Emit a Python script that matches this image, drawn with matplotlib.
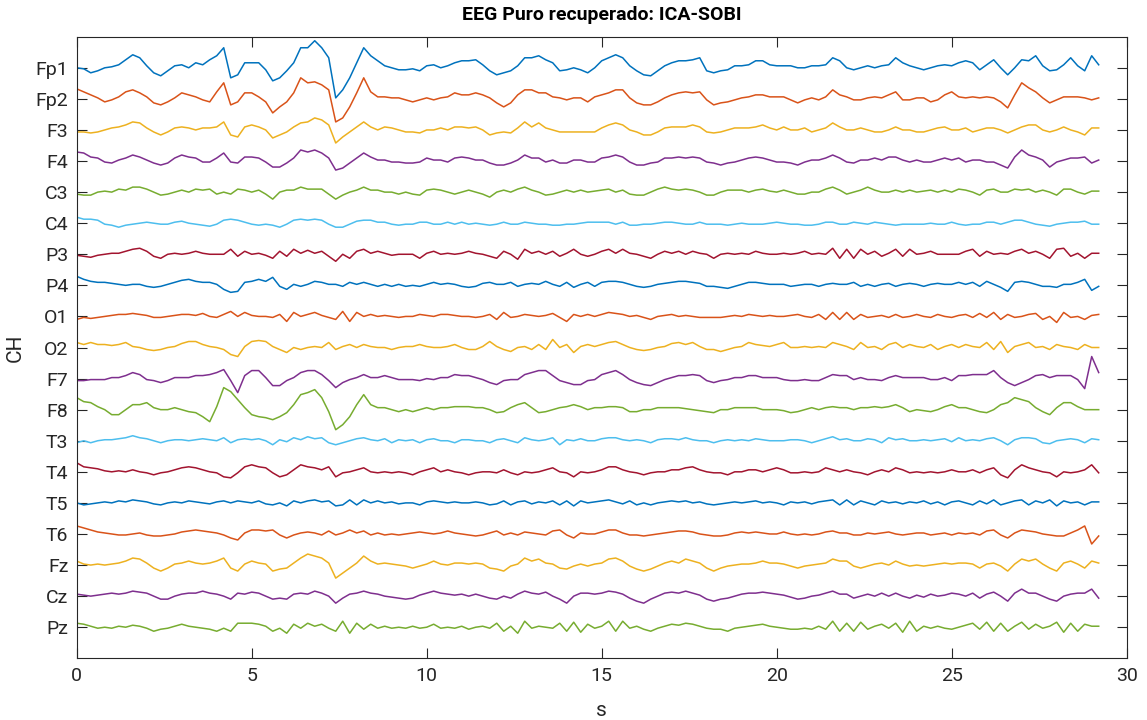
import numpy as np
import matplotlib
matplotlib.use("Agg")
import matplotlib.pyplot as plt

# Canales EEG (de arriba a abajo) y colores por defecto de MATLAB
canales = ['Fp1', 'Fp2', 'F3', 'F4', 'C3', 'C4', 'P3', 'P4', 'O1', 'O2',
           'F7', 'F8', 'T3', 'T4', 'T5', 'T6', 'Fz', 'Cz', 'Pz']
colores = ['#0072BD', '#D95319', '#EDB120', '#7E2F8E', '#77AC30', '#4DBEEE', '#A2142F']

dt = 0.2        # s entre muestras leidas
escala = 31.0   # uV entre canales

# Senales (uV, una muestra cada 0.2 s)
fp1 = [0, -1, -5, -3, 0, 1, 3, 8, 13, 10, 2, -5, -8, -3, 2, 3, 0, 5, 3, 8, 12, 20, -10, -7, 5, 5, 5, -2, -13, -10, -3, 5, 20, 20, 27, 20, 10,
       -30, -22, -10, 5, 20, 12, 7, 2, 0, -2, -2, -1, -3, 2, 3, 0, 2, 5, 7, 7, 8, 3, -3, -7, -5, -3, 2, 10, 10, 12, 8, 5, -3, -2, 0, -2, -5,
       0, 7, 10, 13, 10, 2, -3, -7, -8, -3, 2, 5, 7, 7, 8, 10, -3, -5, -3, -2, 2, 2, 3, 7, 7, 3, 2, 2, 2, 0, 0, 2, 2, 3, 10, 7,
       0, -2, 0, 2, 0, 2, 3, 10, 5, 2, 0, -2, 0, 2, 3, 2, 5, 7, 5, -2, 3, 8, 0, -7, 0, 8, 7, 12, 2, -3, -2, 3, 10, 2, -3, 12, 3]
fp2 = [10, 7, 4, 1, -3, -1, 2, 7, 9, 6, 2, -4, -6, -3, 1, 6, 4, 2, -1, -3, 7, 16, -6, -3, 6, 6, 2, -3, -14, -8, -3, 6, 21, 16, 17, 14, 9,
       -23, -19, -8, 6, 21, 7, 2, 2, 1, 1, -1, -3, -1, 1, -1, 1, 2, 6, 4, 4, 6, 4, 1, -4, -8, -4, 4, 9, 9, 6, 6, 2, 1, -1, 1, 1, -3,
       2, 4, 6, 9, 9, 1, -4, -6, -6, -3, 1, 4, 6, 7, 6, 7, -1, -6, -4, -3, -1, 1, 2, 4, 4, 2, 2, 2, -1, -4, -1, 1, -1, 2, 9, 4,
       2, -1, -1, 1, 2, 1, 4, 7, -1, -1, 1, 1, -3, -1, 4, 7, 2, 1, 2, 1, 2, 1, -3, -9, 4, 16, 11, 7, 1, -4, -1, 2, 2, 2, 1, -1, 1]
f3 = [-2, -2, -3, -2, 0, 2, 3, 5, 8, 7, 2, -2, -5, -2, 2, 3, 2, 0, 2, 2, 3, 8, -5, -7, 3, 5, 3, 0, -8, -5, -2, 3, 7, 8, 12, 10, 5,
      -13, -7, -2, 3, 8, 3, 0, 3, 2, 0, -2, -2, -3, 0, 0, 2, 0, 3, 3, 2, 3, 0, -5, -3, -2, -3, 2, 8, 3, 7, 2, 0, -2, -2, -2, -2, -2,
      -2, 2, 5, 7, 5, 0, -2, -5, -5, -2, 2, 3, 3, 3, 5, 3, -2, -3, -2, 0, 2, 2, 2, 3, 5, 2, 0, 3, 0, 0, 2, -2, 0, 2, 7, 3,
      0, 0, 2, 0, -2, -2, 0, 3, 0, 0, -2, -2, 0, 2, 3, 0, 0, 2, -2, 0, 2, 2, 0, -3, 0, 3, 5, 5, 0, -2, 0, 3, 0, -2, -5, 2, 2]
f4 = [9, 8, 4, 3, -1, -2, 1, 3, 6, 4, 1, -2, -4, -2, 3, 6, 4, 3, -1, -1, 3, 8, -1, -2, 4, 4, 3, -1, -6, -6, -2, 3, 11, 9, 11, 8, 3,
      -9, -7, -2, 3, 8, 4, 1, 1, -1, -1, -2, -2, -1, 3, 1, 1, -1, 3, 4, 3, 1, 1, -2, -4, -4, -2, 1, 6, 3, 3, -1, 1, -2, -2, 1, 1, -1,
      -1, 3, 4, 6, 4, -1, -4, -4, -2, -1, 3, 3, 4, 3, 4, 3, -1, -2, -4, -2, -1, 1, 3, 4, 3, 1, -1, -1, -2, -4, -1, 1, 1, 3, 6, 3,
      -1, -2, 1, 1, 3, 1, 4, 4, 1, -1, 1, -1, -1, 1, 3, 1, 3, -1, 1, 1, -1, -1, -4, -7, 4, 11, 6, 4, 1, -6, -1, 1, 3, 3, 4, -2, 1]
c3 = [-2, -3, -3, 0, 1, 0, 3, 2, 5, 5, 3, 0, -3, -2, 0, 2, 0, 3, 2, 3, -2, 0, -2, 3, 2, 0, 2, -2, -7, 0, 2, 2, 5, 3, 3, 3, -2,
      -7, -3, 0, 2, 5, 2, 2, 0, 0, -2, 0, -2, -3, 2, 3, 2, 0, -2, 0, 2, 0, -2, -5, 0, 2, 0, 3, 5, 2, 0, -3, -2, 0, 2, 0, 2, 0,
      1, 2, 3, 0, 2, -2, -3, -3, 0, 3, 5, 3, 2, 3, 2, 0, -3, -3, 0, 2, 2, 2, 0, 2, 3, 1, 0, 2, 0, -2, -2, 0, 0, 3, 5, 2,
      -2, 0, 2, 5, 2, 0, 0, 2, 0, 2, 0, 1, 2, 0, 2, 0, 3, 2, 0, -3, 2, 3, 0, 0, 3, 2, 3, 0, 2, 0, -3, 3, 3, 0, -2, 1, 1]
c4 = [6, 4, 4, 3, -1, -2, -4, -2, -1, 0, 1, 0, -1, -1, 1, 2, 0, -1, -2, -3, -1, 3, 4, 3, 1, -1, -2, -1, -2, -4, -1, 3, 4, 3, 4, 3, -1,
      -4, -4, -1, 2, 3, 3, 1, 1, -1, -2, -1, -1, 1, 1, -1, -1, 1, -1, 1, -1, 0, -1, -2, -1, 1, -1, -1, 1, 0, -1, -1, -2, -2, -1, -1, 0, 1,
      1, 1, 1, -1, 1, -2, -2, -1, -1, 0, 1, 1, 0, -1, -1, 1, -1, -1, -1, -2, -1, 0, -1, -1, -1, 0, 1, 0, -1, -1, -2, -2, -1, 1, 1, -1,
      -1, 1, 0, -1, 1, 0, -1, -2, -1, -1, -1, -1, 0, -1, -1, 1, -1, -2, -1, -1, 1, 1, -1, 1, 3, 3, 1, -1, -2, -3, -1, 0, 1, 1, 2, -1, -1]
p3 = [-1, -2, -3, -1, 0, 1, 1, 3, 5, 6, 3, -2, -4, 0, 1, 0, 1, 3, 1, 0, 0, 0, 5, -2, 3, 0, 1, -1, -4, 3, -2, 5, 1, 4, 1, 3, -2,
      -7, 0, -4, 3, 5, 1, 3, 1, -1, 0, 0, 0, -4, 1, 3, 0, 1, 0, 1, 3, 1, 0, -2, -4, 3, 0, -5, 5, 1, 3, 0, 3, -2, 1, 5, 0, -2,
      0, 3, 5, 1, 5, 1, 0, -2, -4, 0, 3, 1, 3, 0, 3, 1, 0, -4, 0, 1, 0, 1, 0, 3, 1, 0, 0, 1, 0, 1, 3, 0, 1, 0, 6, -4,
      5, -4, 5, 0, 3, -2, 1, 5, -2, 5, 0, 1, 3, 0, 0, 0, 0, 3, 5, -2, 3, 0, 1, 0, 3, 5, 1, 3, 0, -4, 5, 6, -2, 1, -4, 1, 1]
p4 = [9, 6, 4, 3, 3, 2, 1, 0, 1, 1, -1, -2, -1, 1, 3, 5, 6, 4, 3, 3, 1, -4, -7, -6, 3, 4, 6, 4, 8, -1, -4, 1, -1, 1, 4, 3, 1,
      1, -1, 3, 1, 3, 1, -1, 1, -1, 1, -1, 0, -1, 1, 3, 1, 2, 1, -1, -2, -1, 2, 3, 1, 1, 3, -1, 1, 2, 1, 4, 1, -1, 3, -2, 1, 3,
      -1, 3, 4, 4, 3, 1, -1, -2, -1, 1, 2, 3, 4, 4, 3, 2, -1, -1, -2, -3, -1, 1, 3, 3, 2, 1, 1, 1, -1, 0, 1, 1, -1, 1, 2, 1,
      1, 3, -1, 1, -1, 1, 2, -1, 1, 2, 1, -1, 1, 2, 1, 1, 3, 1, 3, -1, 4, 1, -2, -6, 3, 4, 3, 1, -1, -1, -2, 1, 1, 3, 6, -5, -1]
o1 = [-3, -1, -2, -1, 0, 1, 2, 2, 3, 2, 1, -1, -1, 0, 1, 2, 2, 1, 3, 0, -1, 2, 5, 0, 4, 1, 0, 0, -1, 2, -5, 4, 0, 2, 4, 1, -1,
      -3, 5, -5, 4, 0, 2, 0, 1, 0, -1, 0, 0, 2, 1, 0, 2, 2, 1, 0, 0, -1, 0, 2, -3, 4, -1, 0, 2, 1, 0, 1, 3, -1, -5, 2, 0, 2,
      0, 2, 4, 3, 2, 0, 1, -1, -3, 0, 1, 2, 0, 1, 0, -1, -1, -1, -1, 0, 1, 0, 2, 1, 0, 1, 0, 0, 1, 2, 0, -1, 2, -3, 4, -3,
      4, -3, 2, -1, 0, 1, -1, 2, -1, 0, 2, 0, -1, 2, 0, -1, 1, 2, -1, 3, -1, 4, -3, 2, -1, 0, 2, 3, -3, 0, -6, 4, -1, 0, -3, 1, 2]
o2 = [5, 3, 5, 3, 3, 2, 3, 5, 1, 0, -2, -3, -2, 0, 1, 4, 6, 6, 3, 1, 0, -2, -7, -9, 1, 6, 7, 6, 1, -2, -5, 0, -2, 0, 1, 0, 5,
      -2, 1, 3, 0, 3, 1, 0, 0, -2, 0, 1, 1, 3, 1, 0, 0, 1, 3, 0, -2, -2, 1, 6, 1, -2, -4, 0, 1, -2, 3, -2, 8, 0, 3, -5, 1, 3,
      1, 3, 5, 6, 3, 0, -2, -3, -2, 0, 1, 4, 5, 3, 5, 1, -2, -2, -4, -2, 0, 1, 5, 3, 2, 1, 3, 5, 0, 0, 1, 0, 1, 0, 5, 3,
      1, -2, 5, 0, 1, -2, 3, 5, 0, 3, 1, 0, 3, -2, 1, 3, 0, 3, 1, 0, 5, -2, 6, -5, 1, 3, 5, 0, 1, -2, 3, 1, 0, -2, 3, 0, 0]
f7 = [-2, -2, -1, -1, -1, 1, 1, 3, 6, 4, -1, -2, -4, -2, 1, 1, 1, 3, 3, 4, 6, 9, -2, -14, 3, 8, 8, 1, -7, -7, -2, 1, 6, 8, 8, 4, -2,
      -9, -4, -1, 1, 4, 1, 1, 3, 1, -1, -1, -1, -2, 0, -1, 1, 1, 4, 3, 3, 1, -1, -4, -6, -2, -1, -1, 4, 6, 8, 8, 3, -2, -4, -6, -6, -2,
      -1, 4, 6, 8, 4, -1, -4, -6, -7, -4, -1, 1, 3, 3, 4, 3, -2, -4, -2, -1, 1, 1, 3, 3, 1, 1, 1, -1, -2, -2, -1, -2, -2, 1, 4, 3,
      3, -1, 1, -1, -1, -2, 1, 3, 1, 1, 1, 1, -1, -1, 1, -2, 3, 3, 4, 4, 4, 8, 1, -4, -7, -4, -1, 3, 4, 1, 3, 3, 3, -1, -10, 22, 6]
f8 = [12, 8, 7, 3, 0, -5, -5, 0, 5, 5, 7, 2, 0, 0, 2, 0, -2, -3, -7, -12, 3, 22, 18, 10, 2, -5, -7, -8, -10, -7, -3, 5, 15, 17, 20, 12, -2,
      -20, -15, -7, 5, 15, 5, 2, 2, 0, -2, 0, -2, 0, 2, 0, 2, 2, 3, 3, 3, 2, 2, 0, -3, -2, 2, 5, 7, 2, -3, -2, 0, 2, 3, 5, 3, 0,
      2, 2, 3, 3, 2, -2, -2, 0, 0, 2, 2, 2, 2, 1, 0, -1, -2, -3, 0, 0, 2, 2, 2, 2, 0, 0, 0, -1, -3, -2, 0, 2, 0, 2, 3, 2,
      2, 0, 2, 2, 3, 2, 3, 5, 2, -2, 0, -1, -2, 0, 3, 5, 2, 2, 0, -2, -3, 0, 5, 7, 12, 10, 8, 2, -2, -5, 2, 7, 7, 3, 0, 0, 0]
t3 = [-2, 0, -2, 0, 1, 1, 2, 3, 5, 3, 2, 0, -2, 0, 1, 1, 0, 1, 2, 1, 0, 3, -2, 1, 2, 1, 2, 0, -4, 1, -1, 3, 1, 4, 2, 3, -2,
      -4, -2, 0, 2, 3, 1, 0, 2, -2, 1, 0, 1, -2, 1, 2, 0, 0, -2, 1, 1, 0, 0, -2, 1, 2, 0, -2, 3, 1, 0, 1, 3, -4, 1, 0, 2, 0,
      0, 2, 3, 3, 1, 0, 1, 0, -2, 1, 2, 2, 1, 3, 1, 0, 0, -2, 0, 1, 0, 1, 0, 2, 1, 0, 0, 0, 1, 1, 0, -2, 0, 2, 4, 1,
      2, 0, 0, 2, 1, -2, 3, 1, 2, 0, 0, 1, 0, 1, 2, -1, 3, 0, 1, 0, 2, 3, 0, -4, 1, 3, 3, 2, -2, -3, 0, 1, 2, 1, -2, 2, 1]
t4 = [9, 5, 4, 3, 1, 0, 1, 0, 2, 0, -1, -3, -1, 0, 2, 4, 5, 4, 2, 0, -1, -5, -6, -1, 5, 7, 5, 4, -1, -5, -3, 2, 7, 5, 4, 2, 5,
      -5, -1, 0, 2, 4, 0, -1, 0, -1, 0, -1, -3, 0, 2, 4, 0, 2, 0, -1, -3, -1, 0, 0, -1, 2, -1, -3, 0, -1, 0, 2, 4, 0, -1, -5, 0, -1,
      0, 2, 5, 5, 2, 0, -1, -3, -1, 0, 0, 2, 2, 4, 5, 2, 0, -1, -1, -3, 0, 0, 2, 2, 0, 2, 4, 2, -1, -1, 0, -1, 0, 4, 2, 0,
      2, 0, -1, -3, 0, 2, 0, 4, 2, -1, 0, -1, 0, -1, 0, 2, 0, 0, 2, -1, 2, 4, -3, -6, 2, 7, 4, 2, 0, -1, -5, 0, -1, 0, 2, 7, -1]
t5 = [0, -2, -1, 0, 1, 0, 2, 1, 3, 2, 1, -1, -2, 0, 1, 0, 2, 1, 0, -1, 1, 2, 0, 2, 1, 0, 2, -1, -2, 0, -3, 2, 0, 2, 3, 1, 2,
      -3, -2, 3, -2, 3, 0, 2, 0, 1, -1, 0, 0, -2, 1, 2, 1, 0, 1, 0, 0, 1, 0, -2, -1, 2, -2, 1, 2, -1, 1, 0, 2, -2, 2, -3, 2, 0,
      1, 2, 3, 1, -1, 2, -2, 0, -2, 0, 1, 2, 1, 2, 0, 1, -1, -2, -1, 0, 1, 0, 1, 2, 0, 1, 0, -2, 1, 0, 1, -1, 1, 2, 3, -2,
      3, -2, 2, 0, -2, 2, 0, 1, -1, 1, 0, 2, -1, 1, -2, 1, 2, 0, -2, 2, -1, 3, -2, 0, 2, 3, -2, 2, 0, 3, -3, 2, 0, 1, -2, 1, 1]
t6 = [8, 6, 4, 2, 1, 0, -1, -1, 0, 1, -1, -2, -2, -1, 0, 2, 3, 4, 3, 2, 1, -1, -4, -6, 1, 4, 4, 3, 4, -1, -4, -1, 1, 2, 1, -1, 3,
      -1, 1, 4, 1, 3, -1, 1, -1, 0, -1, 0, 1, 2, 1, 0, 1, 3, 1, 0, -1, -2, -1, 1, 3, -1, 1, -1, 2, 1, 0, -1, 3, 4, -1, -4, 1, 0,
      0, 2, 4, 4, 1, -1, -1, -2, -1, 0, 1, 2, 3, 3, 2, 0, -1, -2, -2, -1, 1, 2, 1, 2, 1, 0, 0, 2, 0, -1, 0, -1, 0, 2, 3, 1,
      1, -1, -1, 1, 0, 1, 2, 0, -1, 0, 1, 1, -1, 0, 1, -1, 1, 0, 1, -1, 3, 4, -1, -4, 1, 4, 3, 2, 0, -1, -2, -2, 1, 4, 8, -10, -2]
fz = [4, 1, 0, 1, 0, 1, 2, 4, 7, 6, 2, -3, -6, -3, 1, 2, 4, 2, 1, 2, 4, 7, -3, -6, 1, 4, 2, 1, -6, -4, -3, 2, 7, 11, 9, 7, 2,
      -13, -8, -3, 2, 9, 4, 1, 2, 1, 0, -1, -3, -1, 1, 4, 1, 0, 2, 2, 1, 2, 1, -3, -4, -6, -1, 1, 7, 4, 6, 2, 1, -3, -4, -1, 1, -1,
      1, 2, 6, 7, 4, -1, -4, -6, -4, -1, 2, 4, 2, 6, 4, 2, -3, -6, -3, -1, 0, 1, 1, 2, 4, 2, 2, 1, -1, -3, -1, 0, 1, 2, 6, 4,
      4, -1, -3, -1, 1, 2, 0, 4, 1, -1, 0, -1, 0, 1, 2, 1, 2, 2, 1, -3, 1, 2, -1, -6, 1, 6, 4, 6, 1, -3, -6, 2, 4, 1, -3, 4, 2]
cz = [2, 1, 0, 1, 2, 3, 2, 3, 5, 4, 3, 0, -3, -3, 0, 2, 3, 3, 5, 3, 2, 0, -3, 3, 2, 4, 3, 0, -3, -2, -3, 2, 3, 2, 5, 3, 0,
      -7, -2, 2, 3, 5, 3, 2, 0, -1, -2, -3, -2, 1, 3, 5, 3, 2, 1, 2, 0, 2, 0, -2, -3, 0, -2, 2, 5, 3, 2, 4, 0, -3, -7, 0, 3, 3,
      2, 3, 5, 4, 2, -2, -5, -7, -3, 0, 3, 4, 3, 5, 3, 1, -3, -5, -3, -2, 0, 2, 3, 3, 4, 3, 2, 1, -1, -3, -2, 0, 1, 3, 5, 2,
      2, -2, 0, 2, 0, 3, 0, 3, 0, -2, 1, -1, 2, 0, 1, 3, 2, 0, 3, -2, 2, 4, 0, -5, 3, 7, 3, 3, 0, -3, -5, 0, 2, 3, 3, 7, -2]
pz = [4, 3, 1, -1, 0, -1, 1, 0, 2, 1, -1, -4, -2, -1, 1, 3, 1, 0, -1, -2, -4, -1, -4, 4, 4, 4, 3, 1, -4, -1, -6, 3, -1, 4, 1, 3, -1,
      -4, 6, -6, 4, -2, 3, -1, 1, -1, 0, -1, 1, -1, 0, 3, -1, 0, -1, 1, -2, 0, 1, -1, 4, -4, 1, -6, 6, -1, 1, 0, -1, 4, -4, 5, -5, 3,
      -1, 1, 6, -4, 6, -1, 1, -2, -4, -1, 1, 3, 2, 4, 3, 1, -1, -2, -2, -4, -1, 0, 1, 2, 3, 1, 0, -1, -2, -2, -1, -2, 1, -2, 6, -4,
      4, -4, 5, -2, 1, 3, -1, 4, -5, 6, -4, 1, -1, 1, -1, -2, 0, 2, 4, -2, 5, -4, 4, -4, 1, 5, -2, 3, -1, 1, 5, -5, 4, -4, 3, 1, 1]

senales = [fp1, fp2, f3, f4, c3, c4, p3, p4, o1, o2, f7, f8, t3, t4, t5, t6, fz, cz, pz]

plt.rcParams['font.family'] = ['Roboto', 'DejaVu Sans']

fig = plt.figure(figsize=(11.47, 7.2), dpi=100)
ax = fig.add_axes([0.0669, 0.0857, 0.9154, 0.8633])

n = len(canales)
for i, sig in enumerate(senales):
    sig = np.asarray(sig, dtype=float)
    t = np.arange(len(sig)) * dt
    base = n - i
    ax.plot(t, base + sig / escala, color=colores[i % len(colores)], lw=1.1)

ax.set_xlim(0, 30)
ax.set_ylim(0, n + 1)
ax.set_xticks(np.arange(0, 31, 5))
ax.set_yticks(np.arange(n, 0, -1))
ax.set_yticklabels(canales)

ax.tick_params(direction='in', length=7, width=0.8, colors='#262626',
               labelsize=14, top=True, right=True, pad=6)
for s in ax.spines.values():
    s.set_color('#262626')
    s.set_linewidth(0.8)

ax.set_title('EEG Puro recuperado: ICA-SOBI', fontsize=14, fontweight='bold', color='black', pad=12)
ax.set_xlabel('s', fontsize=15, color='#262626', labelpad=12)
ax.set_ylabel('CH', fontsize=15, color='#262626', labelpad=8)

fig.savefig('out.png', dpi=100)
